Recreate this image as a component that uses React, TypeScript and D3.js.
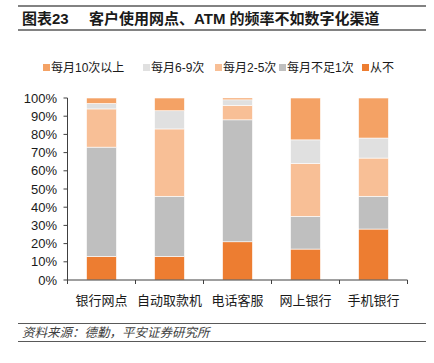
import React from "react";
import * as d3 from "d3";

const categories = ["银行网点", "自动取款机", "电话客服", "网上银行", "手机银行"];
const seriesNames = ["从不", "每月不足1次", "每月2-5次", "每月6-9次", "每月10次以上"];
const never = [13, 13, 21, 17, 28];
const lessThan1 = [60, 33, 67, 18, 18];
const twoToFive = [21, 37, 8, 29, 21];
const sixToNine = [3, 10, 3, 13, 11];
const tenPlus = [3, 7, 1, 23, 22];
const yTicks = [0, 10, 20, 30, 40, 50, 60, 70, 80, 90, 100];
const legendOrder = ["每月10次以上", "每月6-9次", "每月2-5次", "每月不足1次", "从不"];

const colors: Record<string, string> = {
  "从不": "#ED7D31",
  "每月不足1次": "#BFBFBF",
  "每月2-5次": "#F8BF96",
  "每月6-9次": "#E0E0E0",
  "每月10次以上": "#F4A265",
};

const FONT = "'Liberation Sans', Arial, 'Noto Sans CJK SC', sans-serif";

export default function App() {
  const W = 434, H = 363;
  const x0 = 67.5, x1 = 407.5, yTop = 98, yBot = 280;
  const x = d3.scaleBand<string>().domain(categories).range([x0, x1]).paddingInner(0.56).paddingOuter(0.28);
  const y = d3.scaleLinear().domain([0, 100]).range([yBot, yTop]);

  const rows = categories.map((c, i) => ({
    cat: c,
    "从不": never[i],
    "每月不足1次": lessThan1[i],
    "每月2-5次": twoToFive[i],
    "每月6-9次": sixToNine[i],
    "每月10次以上": tenPlus[i],
  }));
  const stacked = d3.stack<any>().keys(seriesNames).offset(d3.stackOffsetExpand)(rows);

  const bandStep = (x1 - x0) / categories.length;
  const tickXs = d3.range(categories.length + 1).map((i) => x0 + i * bandStep);

  const legendX = [43, 143, 215, 279, 362];

  return (
    <svg width={W} height={H} style={{ position: "absolute", left: 0, top: 0, background: "#fff" }}>
      <rect width={W} height={H} fill="#fff" />
      {/* Title */}
      <line x1={18} x2={426} y1={6} y2={6} stroke="#595959" strokeWidth={1.5} />
      <line x1={18} x2={426} y1={30} y2={30} stroke="#595959" strokeWidth={1.5} />
      <text x={22} y={24} fontFamily={FONT} fontSize={15} fontWeight="bold" fill="#1a1a1a">图表23</text>
      <text x={89} y={24} fontFamily={FONT} fontSize={15} fontWeight="bold" fill="#1a1a1a">客户使用网点、ATM 的频率不如数字化渠道</text>

      {/* Legend */}
      {legendOrder.map((name, i) => (
        <g key={name}>
          <rect x={legendX[i]} y={64} width={7} height={7} fill={colors[name]} />
          <text x={legendX[i] + 8} y={72} fontFamily={FONT} fontSize={12} fill="#1a1a1a">{name}</text>
        </g>
      ))}

      {/* Bars */}
      {stacked.map((s) => (
        <g key={s.key}>
          {s.map((d, i) => (
            <rect
              key={i}
              x={x(categories[i])!}
              width={x.bandwidth()}
              y={y(d[1] * 100)}
              height={y(d[0] * 100) - y(d[1] * 100)}
              fill={colors[s.key]}
              stroke="#fff"
              strokeWidth={0.6}
            />
          ))}
        </g>
      ))}

      {/* Y axis */}
      <line x1={x0} x2={x0} y1={yTop} y2={yBot} stroke="#404040" strokeWidth={1} />
      {yTicks.map((t) => (
        <g key={t}>
          <line x1={x0 - 4} x2={x0} y1={y(t)} y2={y(t)} stroke="#404040" strokeWidth={1} />
          <text x={57} y={y(t) + 4.5} textAnchor="end" fontFamily={FONT} fontSize={13} fill="#1a1a1a">{t}%</text>
        </g>
      ))}

      {/* X axis */}
      <line x1={x0} x2={x1} y1={yBot} y2={yBot} stroke="#404040" strokeWidth={1} />
      {tickXs.map((tx, i) => (
        <line key={i} x1={tx} x2={tx} y1={yBot} y2={yBot + 4} stroke="#404040" strokeWidth={1} />
      ))}
      {categories.map((c) => (
        <text key={c} x={x(c)! + x.bandwidth() / 2} y={305} textAnchor="middle" fontFamily={FONT} fontSize={13} fill="#1a1a1a">{c}</text>
      ))}

      {/* Footer */}
      <line x1={18} x2={426} y1={323.5} y2={323.5} stroke="#595959" strokeWidth={1.2} />
      <text x={22} y={337} fontFamily={FONT} fontSize={12.5} fontStyle="italic" fill="#404040">资料来源：德勤，平安证券研究所</text>
      <line x1={18} x2={426} y1={341.5} y2={341.5} stroke="#595959" strokeWidth={1.2} />
    </svg>
  );
}
